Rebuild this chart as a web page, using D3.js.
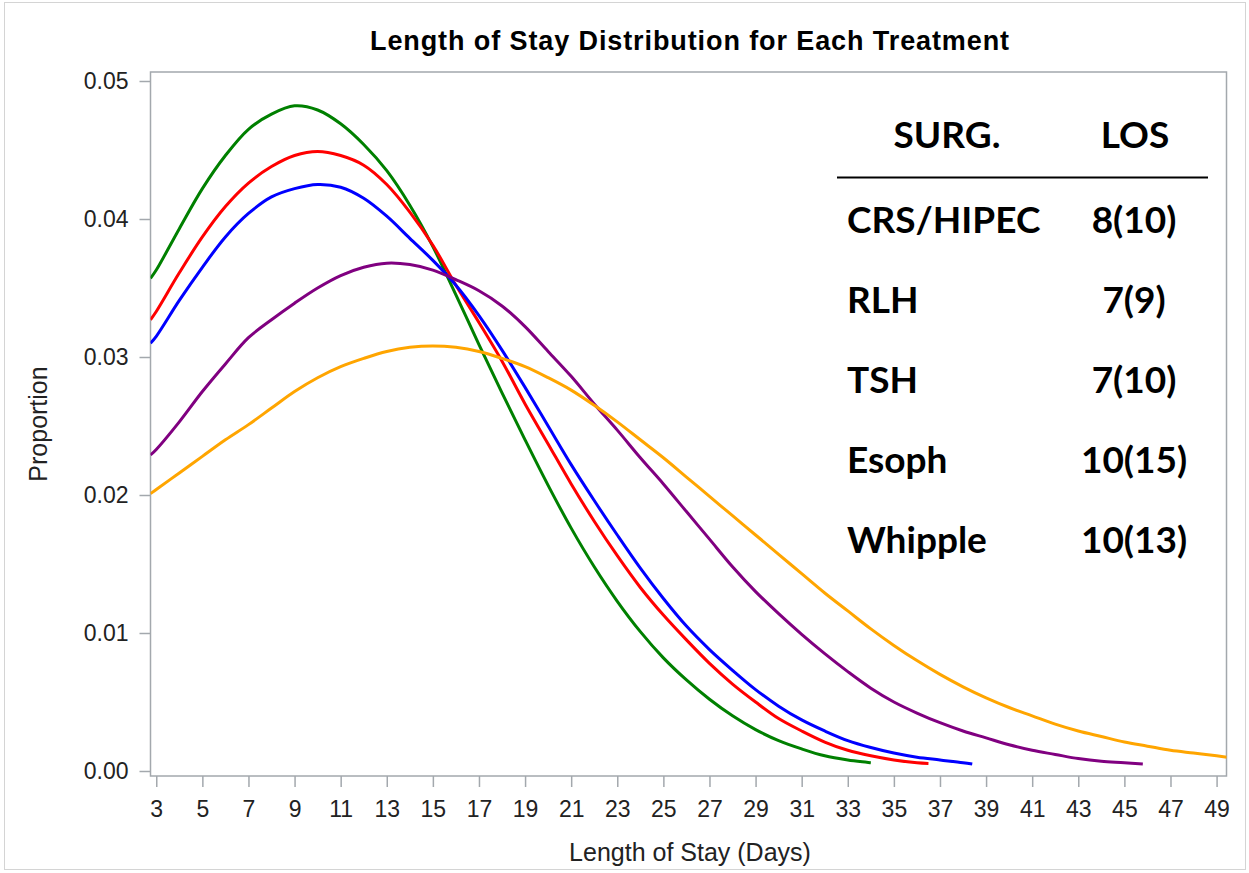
<!DOCTYPE html>
<html>
<head>
<meta charset="utf-8">
<script src="https://cdn.jsdelivr.net/npm/d3@7"></script>
<style>
  body { margin: 0; background: #fff; }
  svg { display: block; }
</style>
</head>
<body>
<svg id="chart" width="1249" height="873"></svg>
<script>
// days at which the densities were read (first point is the left edge of the plot)
var days = [2.75, 3, 4, 5, 6, 7, 8, 9, 10, 11, 12, 13, 14, 15, 16, 17, 18, 19, 20,
  21, 22, 23, 24, 25, 26, 27, 28, 29, 30, 31, 32, 33, 34, 35, 36, 37, 38, 39, 40,
  41, 42, 43, 44, 45, 46, 47, 48, 49];

// each series: values at days[0..n-2], last value sits at its end day
var crsHipec = [0.0357, 0.0363, 0.0393, 0.0422, 0.0446, 0.0465, 0.0476, 0.0482, 0.0479,
  0.0469, 0.0454, 0.0435, 0.0410, 0.0380, 0.0345, 0.0309, 0.0274, 0.0240, 0.0207, 0.0176,
  0.0148, 0.0123, 0.0101, 0.0082, 0.0066, 0.0052, 0.0040, 0.0030, 0.0022, 0.0016, 0.0011,
  0.0008, 0.0006];
var rlh = [0.0327, 0.0333, 0.0361, 0.0387, 0.0409, 0.0426, 0.0438, 0.0446, 0.0449, 0.0446,
  0.0439, 0.0425, 0.0405, 0.0381, 0.0352, 0.0325, 0.0297, 0.0266, 0.0237, 0.0208, 0.0181,
  0.0156, 0.0133, 0.0113, 0.0095, 0.0078, 0.0063, 0.0050, 0.0038, 0.0029, 0.0021, 0.0015,
  0.0011, 0.0008, 0.0006, 0.00055];
var tsh = [0.0310, 0.0315, 0.0341, 0.0365, 0.0387, 0.0404, 0.0416, 0.0422, 0.0425, 0.0423,
  0.0415, 0.0402, 0.0386, 0.0370, 0.0352, 0.0330, 0.0305, 0.0278, 0.0250, 0.0222, 0.0196,
  0.0171, 0.0147, 0.0125, 0.0105, 0.0088, 0.0073, 0.0059, 0.0047, 0.0037, 0.0029, 0.0022,
  0.0017, 0.0013, 0.0010, 0.0008, 0.0006, 0.0005];
var esoph = [0.0229, 0.0233, 0.0253, 0.0275, 0.0295, 0.0314, 0.0327, 0.0339, 0.0350, 0.0359,
  0.0365, 0.0368, 0.0367, 0.0363, 0.0356, 0.0348, 0.0337, 0.0322, 0.0304, 0.0286, 0.0266,
  0.0247, 0.0227, 0.0208, 0.0188, 0.0168, 0.0148, 0.0130, 0.0114, 0.0099, 0.0085, 0.0072,
  0.0060, 0.0050, 0.0042, 0.0035, 0.0029, 0.0024, 0.0019, 0.0015, 0.0012, 0.0009, 0.0007,
  0.0006, 0.0005];
var whipple = [0.0201, 0.0204, 0.0216, 0.0228, 0.0240, 0.0251, 0.0263, 0.0275, 0.0285, 0.0293,
  0.0299, 0.0304, 0.0307, 0.0308, 0.0307, 0.0304, 0.0299, 0.0293, 0.0285, 0.0276, 0.0265,
  0.0253, 0.0240, 0.0227, 0.0213, 0.0199, 0.0185, 0.0171, 0.0157, 0.0143, 0.0129, 0.0116,
  0.0103, 0.0091, 0.0080, 0.0070, 0.0061, 0.0053, 0.0046, 0.0040, 0.0034, 0.0029, 0.0025,
  0.0021, 0.0018, 0.0015, 0.0013, 0.0011, 0.0010];
var endDays = [34, 36.5, 38.4, 45.8, 49.45];
var seriesColors = ["#008000", "#ff0000", "#0000ff", "#800080", "#ffa500"];

var xTicks = d3.range(3, 50, 2);
var yTicks = [0, 0.01, 0.02, 0.03, 0.04, 0.05];

// table in the upper right
var surgNames = ["CRS/HIPEC", "RLH", "TSH", "Esoph", "Whipple"];
var losLabels = ["8(10)", "7(9)", "7(10)", "10(15)", "10(13)"];

var svg = d3.select("#chart");
var plotL = 150.5, plotR = 1226.5, plotT = 72, plotB = 776;
var axisCol = "#a3a8ad";
var sans = "'Liberation Sans', Arial, sans-serif";

// light frame round the picture
svg.append("rect")
  .attr("x", 4.5).attr("y", 2.5).attr("width", 1241).attr("height", 867)
  .attr("fill", "none").attr("stroke", "#d4d4d4");

var x = d3.scaleLinear().domain([2.75, 49.43]).range([plotL, plotR]);
var y = d3.scaleLinear().domain([0, 0.05]).range([771, 81]);

svg.append("text")
  .attr("x", 690).attr("y", 50)
  .attr("text-anchor", "middle")
  .style("font", "bold 27px " + sans)
  .style("letter-spacing", "0.9px")
  .text("Length of Stay Distribution for Each Treatment");

// axes
var yAxis = svg.append("g")
  .attr("transform", "translate(" + plotL + ",0)")
  .call(d3.axisLeft(y).tickValues(yTicks).tickFormat(d3.format(".2f")).tickSize(11).tickPadding(11));
var xAxis = svg.append("g")
  .attr("transform", "translate(0," + plotB + ")")
  .call(d3.axisBottom(x).tickValues(xTicks).tickSize(11).tickPadding(14));

[yAxis, xAxis].forEach(function(a) {
  a.select(".domain").remove();
  a.selectAll("line").attr("stroke", axisCol).attr("stroke-width", 1.5);
  a.selectAll("text")
    .attr("fill", "#222")
    .style("font-family", sans)
    .style("font-size", "23px");
});

svg.append("rect")
  .attr("x", plotL).attr("y", plotT)
  .attr("width", plotR - plotL).attr("height", plotB - plotT)
  .attr("fill", "none").attr("stroke", axisCol).attr("stroke-width", 1.5);

svg.append("text")
  .attr("x", 690).attr("y", 861)
  .attr("text-anchor", "middle")
  .attr("fill", "#222")
  .style("font", "25px " + sans)
  .text("Length of Stay (Days)");

svg.append("text")
  .attr("transform", "translate(47,424) rotate(-90)")
  .attr("text-anchor", "middle")
  .attr("fill", "#222")
  .style("font", "25px " + sans)
  .text("Proportion");

// curves
svg.append("clipPath").attr("id", "plotClip")
  .append("rect").attr("x", plotL).attr("y", plotT)
  .attr("width", plotR - plotL).attr("height", plotB - plotT);

var allSeries = [crsHipec, rlh, tsh, esoph, whipple];
var line = d3.line()
  .x(function(d) { return x(d[0]); })
  .y(function(d) { return y(d[1]); })
  .curve(d3.curveCatmullRom.alpha(0.5));

var g = svg.append("g").attr("clip-path", "url(#plotClip)");
allSeries.forEach(function(vals, i) {
  var pts = vals.map(function(v, j) {
    var day = (j === vals.length - 1) ? endDays[i] : days[j];
    return [day, v];
  });
  g.append("path")
    .datum(pts)
    .attr("d", line)
    .attr("fill", "none")
    .attr("stroke", seriesColors[i])
    .attr("stroke-width", 3)
    .attr("stroke-linejoin", "round");
});

// table
var tbl = svg.append("g")
  .style("font-family", "Lato, 'Open Sans', sans-serif")
  .style("font-weight", "bold")
  .style("font-size", "37px")
  .attr("fill", "#000");

tbl.append("text").attr("x", 947).attr("y", 148).attr("text-anchor", "middle").text("SURG.");
tbl.append("text").attr("x", 1135).attr("y", 148).attr("text-anchor", "middle").text("LOS");
tbl.append("line")
  .attr("x1", 837).attr("x2", 1208).attr("y1", 177.5).attr("y2", 177.5)
  .attr("stroke", "#000").attr("stroke-width", 2);

surgNames.forEach(function(n, i) {
  var by = 233 + i * 80;
  tbl.append("text").attr("x", 847).attr("y", by).text(n);
  tbl.append("text").attr("x", 1134).attr("y", by).attr("text-anchor", "middle").text(losLabels[i]);
});
</script>
</body>
</html>
